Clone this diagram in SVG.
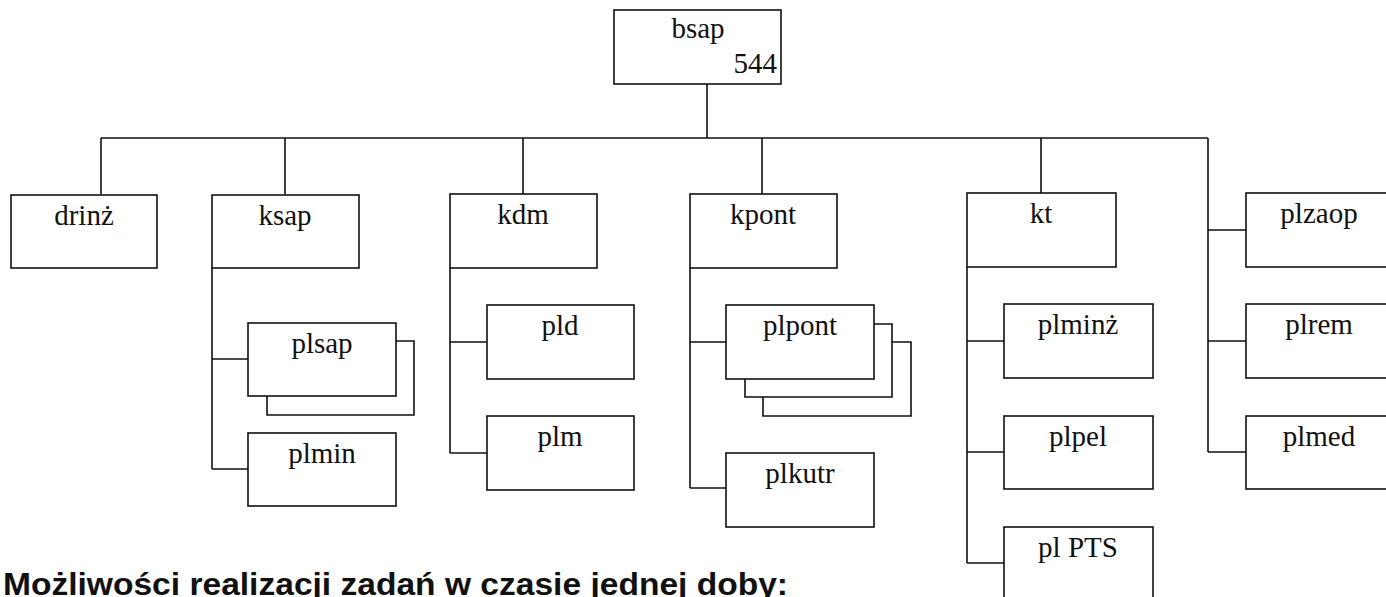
<svg xmlns="http://www.w3.org/2000/svg" width="1386" height="597" viewBox="0 0 1386 597">
<style>
.box{fill:#fff;stroke:#111;stroke-width:1.6}
.sh{fill:none;stroke:#111;stroke-width:1.6}
.ln{fill:none;stroke:#111;stroke-width:1.6}
.t{font-family:Liberation Serif, DejaVu Serif, Noto Serif, Times New Roman, serif;font-size:29px;fill:#111;text-anchor:middle}
.e{text-anchor:end}
</style>
<rect width="1386" height="597" fill="#fff"/>
<g id="connectors">
<path class="ln" d="M707 84V138M101 138H1208M101 138V194M285 138V194M523 138V194M762 138V194M1041 138V193M1208 138V452"/>
<path class="ln" d="M1208 230H1246M1208 341H1246M1208 452H1246"/>
<path class="ln" d="M212 268V469M212 359H248M212 469H248"/>
<path class="ln" d="M450 268V453M450 342H487M450 453H487"/>
<path class="ln" d="M690 268V488M690 342H726M690 488H726"/>
<path class="ln" d="M967 267V563M967 341H1004M967 452H1004M967 563H1004"/>
</g>
<g id="bsap"><rect class="box" x="614" y="10" width="167" height="74"/><text class="t" x="698" y="38">bsap</text><text class="t e" x="777" y="73">544</text></g>
<g id="drinz"><rect class="box" x="11" y="195" width="146" height="73"/><text class="t" x="84" y="225">drinż</text></g>
<g id="ksap"><rect class="box" x="212" y="195" width="147" height="73"/><text class="t" x="285" y="225">ksap</text></g>
<g id="plsap"><path class="sh" d="M396 341H414V415H267V396"/><rect class="box" x="248" y="323" width="148" height="73"/><text class="t" x="322" y="353">plsap</text></g>
<g id="plmin"><rect class="box" x="248" y="433" width="148" height="73"/><text class="t" x="322" y="463">plmin</text></g>
<g id="kdm"><rect class="box" x="450" y="194" width="147" height="74"/><text class="t" x="523" y="224">kdm</text></g>
<g id="pld"><rect class="box" x="487" y="305" width="147" height="74"/><text class="t" x="560" y="335">pld</text></g>
<g id="plm"><rect class="box" x="487" y="416" width="147" height="74"/><text class="t" x="560" y="446">plm</text></g>
<g id="kpont"><rect class="box" x="690" y="194" width="147" height="74"/><text class="t" x="763" y="224">kpont</text></g>
<g id="plpont"><path class="sh" d="M892 342H911V416H763V397"/><path class="sh" d="M874 324H892V397H745V379"/><rect class="box" x="726" y="305" width="148" height="74"/><text class="t" x="800" y="335">plpont</text></g>
<g id="plkutr"><rect class="box" x="726" y="453" width="148" height="74"/><text class="t" x="800" y="483">plkutr</text></g>
<g id="kt"><rect class="box" x="967" y="193" width="149" height="74"/><text class="t" x="1041" y="223">kt</text></g>
<g id="plminz"><rect class="box" x="1004" y="304" width="149" height="74"/><text class="t" x="1078" y="334">plminż</text></g>
<g id="plpel"><rect class="box" x="1004" y="416" width="149" height="73"/><text class="t" x="1078" y="446">plpel</text></g>
<g id="plPTS"><rect class="box" x="1004" y="527" width="149" height="74"/><text class="t" x="1078" y="557">pl PTS</text></g>
<g id="plzaop"><rect class="box" x="1246" y="193" width="147" height="74"/><text class="t" x="1319" y="223">plzaop</text></g>
<g id="plrem"><rect class="box" x="1246" y="304" width="147" height="74"/><text class="t" x="1319" y="334">plrem</text></g>
<g id="plmed"><rect class="box" x="1246" y="416" width="147" height="73"/><text class="t" x="1319" y="446">plmed</text></g>
<text x="3" y="595" font-family="Liberation Sans, Arial, sans-serif" font-size="32" font-weight="bold" fill="#111" textLength="785" lengthAdjust="spacingAndGlyphs">Możliwości realizacji zadań w czasie jednej doby:</text>
</svg>
